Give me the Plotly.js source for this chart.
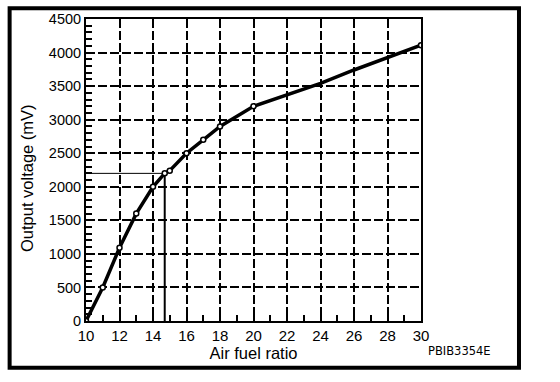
<!DOCTYPE html>
<html>
<head>
<meta charset="utf-8">
<script src="https://cdn.plot.ly/plotly-3.0.1.min.js"></script>
<style>
html,body{margin:0;padding:0;background:#fff;}
#chart{width:560px;height:382px;}
</style>
</head>
<body>
<div id="chart"></div>
<script>
// Measured points (air fuel ratio vs output voltage in mV)
const afrPoints = [10, 11, 12, 13, 14, 14.7, 15, 16, 17, 18, 20, 30];
const mvPoints  = [0, 500, 1090, 1600, 2000, 2200, 2240, 2500, 2700, 2900, 3200, 4110];
const afrCurve = [20, 22, 24, 26, 28, 30];
const mvCurve  = [3200, 3370, 3540, 3740, 3920, 4110];
// Stoichiometric reference
const refAfr = 14.7;
const refMv = 2200;
const xTicks = [10, 12, 14, 16, 18, 20, 22, 24, 26, 28, 30];
const yTicks = [0, 500, 1000, 1500, 2000, 2500, 3000, 3500, 4000, 4500];
const xTitle = 'Air fuel ratio';
const yTitle = 'Output voltage (mV)';
const figCode = 'PBIB3354E';

const lineX = afrPoints.slice(0, -2).concat(afrCurve);
const lineY = mvPoints.slice(0, -2).concat(mvCurve);

const traces = [
  {x: [xTicks[0], refAfr], y: [refMv, refMv], mode: 'lines',
   line: {color: '#000', width: 1}, hoverinfo: 'skip', showlegend: false},
  {x: [refAfr, refAfr], y: [refMv, 0], mode: 'lines',
   line: {color: '#000', width: 2}, hoverinfo: 'skip', showlegend: false},
  {x: lineX, y: lineY, mode: 'lines',
   line: {color: '#000', width: 3.5}, showlegend: false},
  {x: afrPoints, y: mvPoints, mode: 'markers',
   marker: {symbol: 'circle', size: 5, color: '#fff', line: {color: '#000', width: 1.5}},
   showlegend: false}
];

const font = {family: 'Liberation Sans, Arial, sans-serif', color: '#000'};

const layout = {
  width: 560, height: 382,
  margin: {l: 86, r: 139, t: 19, b: 61, pad: 0},
  paper_bgcolor: '#fff', plot_bgcolor: '#fff',
  font: font,
  showlegend: false,
  xaxis: {
    range: [10, 30], tickvals: xTicks, ticktext: xTicks.map(String),
    showgrid: true, gridcolor: '#000', gridwidth: 2, griddash: '9px,3px',
    zeroline: false, showline: true, linecolor: '#000', linewidth: 2, mirror: true,
    ticks: 'inside', ticklen: 6, tickwidth: 2, tickcolor: '#000',
    minor: {dtick: 1, ticks: 'inside', ticklen: 6, tickwidth: 2, tickcolor: '#000', showgrid: false},
    tickfont: {family: font.family, size: 15, color: '#000'},
    title: {text: xTitle, font: {family: font.family, size: 16.5, color: '#000'}, standoff: 2},
    fixedrange: true
  },
  yaxis: {
    range: [0, 4500], tickvals: yTicks, ticktext: yTicks.map(String),
    showgrid: true, gridcolor: '#000', gridwidth: 2, griddash: '9px,3px',
    zeroline: false, showline: true, linecolor: '#000', linewidth: 2, mirror: true,
    ticks: 'inside', ticklen: 6, tickwidth: 2, tickcolor: '#000',
    minor: {dtick: 100, ticks: 'inside', ticklen: 6, tickwidth: 2, tickcolor: '#000', showgrid: false},
    tickfont: {family: font.family, size: 14.5, color: '#000'},
    fixedrange: true
  },
  shapes: [
    {type: 'rect', xref: 'paper', yref: 'paper',
     x0: -0.228, x1: 1.2925, y0: -0.155, y1: 1.036,
     line: {color: '#000', width: 4}, fillcolor: 'rgba(0,0,0,0)', layer: 'above'}
  ],
  annotations: [
    {text: yTitle, xref: 'paper', yref: 'paper', x: -0.176, y: 0.4735,
     xanchor: 'center', yanchor: 'middle', textangle: -90, showarrow: false,
     font: {family: font.family, size: 16.5, color: '#000'}},
    {text: figCode, xref: 'paper', yref: 'paper', x: 1.115, y: -0.10,
     xanchor: 'center', yanchor: 'middle', showarrow: false,
     font: {family: 'DejaVu Sans, sans-serif', size: 11.5, color: '#000'}}
  ]
};

Plotly.newPlot('chart', traces, layout, {displayModeBar: false, staticPlot: true});
</script>
</body>
</html>
